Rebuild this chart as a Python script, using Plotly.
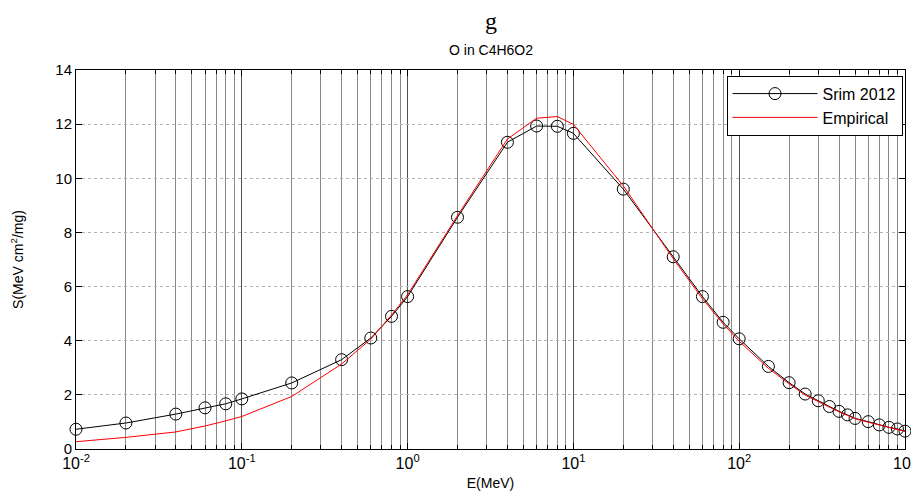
import plotly.graph_objects as go

# Datos
energia_srim = [0.01, 0.02, 0.04, 0.06, 0.08, 0.1, 0.2, 0.4, 0.6, 0.8, 1, 2, 4, 6, 8, 10,
                20, 40, 60, 80, 100, 150, 200, 250, 300, 350, 400, 450, 500, 600, 700,
                800, 900, 1000]
s_srim = [0.73, 0.96, 1.29, 1.52, 1.67, 1.85, 2.44, 3.30, 4.10, 4.90, 5.63, 8.56, 11.33,
          11.93, 11.92, 11.66, 9.60, 7.10, 5.63, 4.68, 4.07, 3.05, 2.45, 2.03, 1.78,
          1.57, 1.39, 1.26, 1.13, 1.01, 0.89, 0.80, 0.74, 0.66]

energia_emp = energia_srim
s_emp = [0.27, 0.43, 0.63, 0.85, 1.04, 1.20, 1.94, 3.14, 4.06, 4.95, 5.70, 8.62, 11.45,
         12.22, 12.28, 11.99, 9.72, 7.03, 5.55, 4.62, 3.98, 2.98, 2.41, 1.99, 1.75,
         1.54, 1.37, 1.24, 1.12, 0.99, 0.88, 0.79, 0.72, 0.65]

x_ticks = [0.01, 0.1, 1, 10, 100, 1000]
x_ticktext = ['10<sup>-2</sup>', '10<sup>-1</sup>', '10<sup>0</sup>',
              '10<sup>1</sup>', '10<sup>2</sup>', '10<sup>3</sup>']
y_ticks = [0, 2, 4, 6, 8, 10, 12, 14]

fuente = 'Liberation Sans, Arial, sans-serif'

fig = go.Figure()

# Curva SRIM con marcadores circulares
fig.add_trace(go.Scatter(
    x=energia_srim, y=s_srim, mode='lines+markers', name='Srim 2012',
    line=dict(color='black', width=1), cliponaxis=False,
    marker=dict(symbol='circle-open', size=12, color='black', line=dict(width=1))
))

# Curva empírica
fig.add_trace(go.Scatter(
    x=energia_emp, y=s_emp, mode='lines', name='Empirical',
    line=dict(color='red', width=1)
))

fig.update_xaxes(
    type='log', range=[-2, 3], automargin=False,
    tickvals=x_ticks, ticktext=x_ticktext,
    showgrid=True, gridcolor='#505050', gridwidth=1,
    minor=dict(dtick='D1', showgrid=True, gridcolor='#8a8a8a', gridwidth=1,
               ticks='inside', ticklen=4, tickcolor='black'),
    ticks='inside', ticklen=6, tickcolor='black',
    showline=True, linecolor='black', linewidth=1, mirror='allticks',
    zeroline=False,
    tickfont=dict(family=fuente, size=16, color='black'),
    title=dict(text='E(MeV)', font=dict(family=fuente, size=14, color='black'),
               standoff=6)
)

fig.update_yaxes(
    range=[0, 14], tickvals=y_ticks, automargin=False,
    showgrid=True, gridcolor='#b4b4b4', griddash='dot', gridwidth=1,
    ticks='inside', ticklen=6, tickcolor='black',
    showline=True, linecolor='black', linewidth=1, mirror='allticks',
    zeroline=False,
    tickfont=dict(family=fuente, size=15, color='black'),
    title=dict(text='S(MeV cm<sup>2</sup>/mg)',
               font=dict(family=fuente, size=14, color='black'), standoff=28)
)

# La página añade 8 px de margen al cuerpo: se compensa en tamaño y márgenes
fig.update_layout(
    width=911, height=488,
    margin=dict(l=68, r=14, t=62, b=47),
    paper_bgcolor='white', plot_bgcolor='white',
    font=dict(family=fuente, color='black'),
    showlegend=True,
    legend=dict(
        x=0.997, y=0.985, xanchor='right', yanchor='top',
        bgcolor='white', bordercolor='black', borderwidth=1,
        font=dict(family=fuente, size=16, color='black'),
        tracegroupgap=0, itemwidth=85
    ),
    annotations=[
        dict(text='g', x=0.5, y=1.13, xref='paper', yref='paper', yanchor='middle',
             showarrow=False, font=dict(family='Liberation Serif, Times New Roman, serif',
                                        size=24, color='black')),
        dict(text='O in C4H6O2', x=0.5, y=1.053, xref='paper', yref='paper',
             yanchor='middle', showarrow=False,
             font=dict(family=fuente, size=14, color='black'))
    ]
)

fig.write_html('out.html')
